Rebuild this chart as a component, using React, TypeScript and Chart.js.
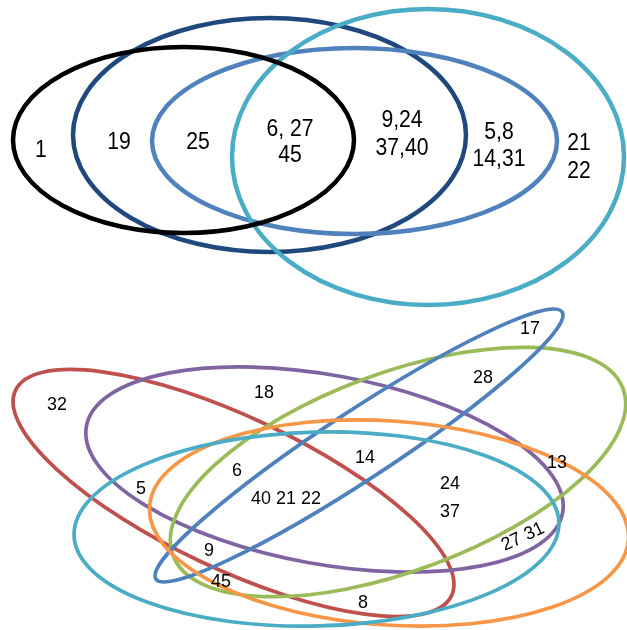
import React, { useEffect, useRef } from "react";
import { Chart, registerables } from "chart.js";

Chart.register(...registerables);

// ellipse outlines (top diagram: 4 sets, bottom diagram: 6 sets)
const ellipseCx = [269.5, 354.5, 428, 183.5, 233.5, 324.5, 398, 359, 389, 316.5];
const ellipseCy = [135, 141, 157, 140, 493, 469.5, 472, 445.5, 523, 529];
const ellipseRx = [196.5, 202.5, 196, 170.5, 241, 242, 240, 243, 240, 242.5];
const ellipseRy = [117, 93, 148, 93, 76, 94.5, 99, 34, 102, 97];
const ellipseAngle = [0, 0, 0, 0, 25.2, 10.3, -20.3, -33.3, 4, -1.5];
const ellipseColor = [
  "#1F497D", "#4F81BD", "#4BACC6", "#000000",
  "#C0504D", "#8064A2", "#9BBB59", "#4F81BD", "#F79646", "#4BACC6",
];

// region members
const labelText = [
  "1", "19", "25", "6, 27", "45", "9,24", "37,40", "5,8", "14,31", "21", "22",
  "17", "28", "32", "18", "6", "14", "13", "5", "40 21 22", "24", "37", "27 31", "9", "45", "8",
];
const labelX = [41, 119, 198, 290, 290, 402, 402, 499, 499, 579, 579,
  530, 483, 57, 264, 237, 365, 557, 141, 286, 450, 450, 523, 209, 221, 363];
const labelY = [151, 143, 143, 130, 156, 121, 149, 133, 160, 144, 172,
  329, 378, 405, 393, 471, 458, 463, 489, 499, 484, 512, 537, 551, 582, 603];
const labelAngle = [0, 0, 0, 0, 0, 0, 0, 0, 0, 0, 0,
  0, 0, 0, 0, 0, 0, 0, 0, 0, 0, 0, -25, 0, 0, 0];

const ellipsePlugin = {
  id: "ellipses",
  beforeDatasetsDraw(chart: any) {
    const { ctx, scales } = chart;
    const xs = scales.x;
    const ys = scales.y;
    ellipseCx.forEach((cx, i) => {
      const px = xs.getPixelForValue(cx);
      const py = ys.getPixelForValue(ellipseCy[i]);
      const rx = Math.abs(xs.getPixelForValue(cx + ellipseRx[i]) - px);
      const ry = Math.abs(ys.getPixelForValue(ellipseCy[i] + ellipseRy[i]) - py);
      ctx.save();
      ctx.beginPath();
      ctx.ellipse(px, py, rx, ry, (ellipseAngle[i] * Math.PI) / 180, 0, Math.PI * 2);
      ctx.strokeStyle = ellipseColor[i];
      ctx.lineWidth = i < 4 ? 4.5 : 3.7;
      ctx.stroke();
      ctx.restore();
    });
  },
};

const labelPlugin = {
  id: "regionLabels",
  afterDatasetsDraw(chart: any) {
    const { ctx } = chart;
    const meta = chart.getDatasetMeta(0);
    meta.data.forEach((pt: any, i: number) => {
      const big = i < 11;
      ctx.save();
      ctx.translate(pt.x, pt.y);
      ctx.rotate((labelAngle[i] * Math.PI) / 180);
      // the source text is a little condensed
      ctx.scale(big ? 0.92 : 0.97, 1);
      ctx.fillStyle = "#000";
      ctx.font = (big ? "23px" : "18.5px") + " 'Liberation Sans', Arial, sans-serif";
      ctx.textAlign = "center";
      ctx.textBaseline = "middle";
      ctx.fillText(labelText[i], 0, 0);
      ctx.restore();
    });
  },
};

const App: React.FC = () => {
  const canvasRef = useRef<HTMLCanvasElement>(null);
  const chartRef = useRef<Chart>();

  useEffect(() => {
    document.body.style.margin = "0";
    if (!canvasRef.current) return;
    const ctx = canvasRef.current.getContext("2d");
    if (!ctx) return;
    chartRef.current = new Chart(ctx, {
      type: "scatter",
      data: {
        datasets: [
          {
            data: labelX.map((x, i) => ({ x, y: labelY[i] })),
            pointRadius: 0,
            pointHoverRadius: 0,
          },
        ],
      },
      options: {
        animation: false,
        responsive: false,
        events: [],
        layout: { padding: 0 },
        plugins: { legend: { display: false }, tooltip: { enabled: false } },
        scales: {
          x: { type: "linear", min: 0, max: 627, display: false },
          y: { type: "linear", min: 0, max: 630, reverse: true, display: false },
        },
      },
      plugins: [ellipsePlugin, labelPlugin],
    });
    return () => {
      if (chartRef.current) chartRef.current.destroy();
    };
  }, []);

  return (
    <div style={{ width: 627, height: 630, background: "#fff" }}>
      <canvas ref={canvasRef} width={627} height={630} />
    </div>
  );
};

export default App;
